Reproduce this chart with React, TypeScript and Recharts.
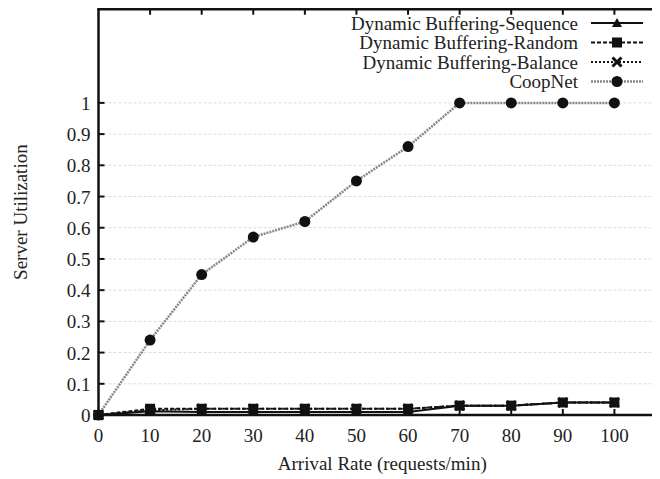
import React from 'react';
import { LineChart, Line, XAxis, YAxis, CartesianGrid, Legend } from 'recharts';

const arrivalRates = [0, 10, 20, 30, 40, 50, 60, 70, 80, 90, 100];
const sequenceValues = [0, 0.012, 0.01, 0.01, 0.01, 0.01, 0.01, 0.03, 0.03, 0.04, 0.04];
const randomValues = [0, 0.02, 0.02, 0.02, 0.02, 0.02, 0.02, 0.03, 0.03, 0.04, 0.04];
const balanceValues = [0, 0.015, 0.02, 0.02, 0.02, 0.02, 0.02, 0.03, 0.03, 0.04, 0.04];
const coopNetValues = [0, 0.24, 0.45, 0.57, 0.62, 0.75, 0.86, 1, 1, 1, 1];
const xTicks = [0, 10, 20, 30, 40, 50, 60, 70, 80, 90, 100];
const yTicks = [0, 0.1, 0.2, 0.3, 0.4, 0.5, 0.6, 0.7, 0.8, 0.9, 1];
const yTickLabels = ['0', '0.1', '0.2', '0.3', '0.4', '0.5', '0.6', '0.7', '0.8', '0.9', '1'];
const yMax = 1.3;
const seriesNames = [
  'Dynamic Buffering-Sequence',
  'Dynamic Buffering-Random',
  'Dynamic Buffering-Balance',
  'CoopNet',
];

const data = arrivalRates.map((x, i) => ({
  x,
  seq: sequenceValues[i],
  rnd: randomValues[i],
  bal: balanceValues[i],
  coop: coopNetValues[i],
}));

const FONT = '"Liberation Serif", "Times New Roman", serif';
const TEXT = '#222';
const PLOT_TOP = 1.25;
const PLOT_LEFT = 90.5;

const Triangle = ({ cx, cy }: any) => (
  <path d={`M${cx},${cy - 5} L${cx + 5},${cy + 4} L${cx - 5},${cy + 4} Z`} fill="#111" />
);
const Square = ({ cx, cy }: any) => (
  <rect x={cx - 5} y={cy - 5} width={10} height={10} fill="#111" />
);
const Cross = ({ cx, cy }: any) => (
  <path
    d={`M${cx - 4.5},${cy - 4.5} L${cx + 4.5},${cy + 4.5} M${cx + 4.5},${cy - 4.5} L${cx - 4.5},${cy + 4.5}`}
    stroke="#111"
    strokeWidth={3}
  />
);
const Circle = ({ cx, cy }: any) => <circle cx={cx} cy={cy} r={5.5} fill="#111" />;

const mk = (C: any) => (props: any) => {
  if (props.cx == null || props.cy == null) return <g key={props.index} />;
  return <C key={`d-${props.index}`} cx={props.cx} cy={props.cy} />;
};

const legendStyles = [
  { stroke: '#111', dash: undefined, width: 2, M: Triangle },
  { stroke: '#111', dash: '4 2', width: 2, M: Square },
  { stroke: '#111', dash: '2 2', width: 2, M: Cross },
  { stroke: '#888', dash: '2 1', width: 2.5, M: Circle },
];

const LegendContent = () => (
  <svg width={652} height={95} style={{ position: 'absolute', left: 0, top: 0, pointerEvents: 'none' }}>
    <line x1={PLOT_LEFT - 1.25} x2={652} y1={PLOT_TOP} y2={PLOT_TOP} stroke="#111" strokeWidth={2.5} />
    {seriesNames.map((name, i) => {
      const ly = 15 + i * 19.5;
      const s = legendStyles[i];
      const M = s.M;
      return (
        <g key={name}>
          <text x={570} y={ly + 6.5} textAnchor="end" fontFamily={FONT} fontSize={19} fill={TEXT}>
            {name}
          </text>
          <line x1={583} x2={635} y1={ly} y2={ly} stroke={s.stroke} strokeWidth={s.width} strokeDasharray={s.dash} />
          <M cx={609} cy={ly} />
        </g>
      );
    })}
  </svg>
);

const YTick = ({ x, y, payload }: any) => {
  const idx = yTicks.indexOf(payload.value);
  if (idx < 0) return <g />;
  return (
    <g>
      <line x1={x} x2={x + 6} y1={y} y2={y} stroke="#111" strokeWidth={2} />
      <text x={x - 8} y={y + 7} textAnchor="end" fontFamily={FONT} fontSize={19} fill={TEXT}>
        {yTickLabels[idx]}
      </text>
    </g>
  );
};

const XTick = ({ x, y, payload }: any) => (
  <g>
    {payload.value !== 0 && <line x1={x} x2={x} y1={y} y2={y - 6} stroke="#111" strokeWidth={2} />}
    {payload.value !== 0 && (
      <line x1={x} x2={x} y1={PLOT_TOP} y2={PLOT_TOP + 5.5} stroke="#111" strokeWidth={2} />
    )}
    <text x={x} y={y + 27} textAnchor="middle" fontFamily={FONT} fontSize={19} fill={TEXT}>
      {payload.value}
    </text>
  </g>
);

const YLabel = ({ viewBox }: any) => {
  const cx = viewBox.x + 19;
  const cy = viewBox.y + viewBox.height / 2;
  return (
    <text
      x={cx}
      y={cy}
      transform={`rotate(-90, ${cx}, ${cy})`}
      textAnchor="middle"
      fontFamily={FONT}
      fontSize={19}
      fill={TEXT}
    >
      Server Utilization
    </text>
  );
};

const XLabel = ({ viewBox }: any) => {
  const cx = viewBox.x + viewBox.width / 2;
  return (
    <text x={cx} y={viewBox.y + 55} textAnchor="middle" fontFamily={FONT} fontSize={19} fill={TEXT}>
      Arrival Rate (requests/min)
    </text>
  );
};

export default function App() {
  return (
    <div style={{ width: 652, height: 471, overflow: 'hidden', position: 'relative', background: '#fff' }}>
      <LineChart
        width={676}
        height={471}
        data={data}
        margin={{ top: PLOT_TOP, right: 18, bottom: 0, left: 0 }}
      >
        <CartesianGrid vertical={false} stroke="#dcdcdc" strokeDasharray="3 2" />
        <XAxis
          dataKey="x"
          type="number"
          domain={[0, 110]}
          ticks={xTicks}
          interval={0}
          height={64}
          tickLine={false}
          tickSize={0}
          tickMargin={0}
          axisLine={{ stroke: '#111', strokeWidth: 2.5 }}
          tick={<XTick />}
          label={<XLabel />}
        />
        <YAxis
          type="number"
          domain={[0, yMax]}
          ticks={yTicks}
          interval={0}
          width={PLOT_LEFT}
          tickLine={false}
          tickSize={0}
          tickMargin={0}
          axisLine={{ stroke: '#111', strokeWidth: 2.5 }}
          tick={<YTick />}
          label={<YLabel />}
        />
        <Legend
          layout="horizontal"
          verticalAlign="middle"
          align="center"
          wrapperStyle={{ position: 'absolute', top: 0, left: 0, width: 652, height: 95 }}
          content={<LegendContent />}
        />
        <Line
          name={seriesNames[0]}
          dataKey="seq"
          stroke="#111"
          strokeWidth={2}
          dot={mk(Triangle)}
          isAnimationActive={false}
        />
        <Line
          name={seriesNames[1]}
          dataKey="rnd"
          stroke="#111"
          strokeWidth={2}
          strokeDasharray="4 2"
          dot={mk(Square)}
          isAnimationActive={false}
        />
        <Line
          name={seriesNames[2]}
          dataKey="bal"
          stroke="#111"
          strokeWidth={2}
          strokeDasharray="2 2"
          dot={mk(Cross)}
          isAnimationActive={false}
        />
        <Line
          name={seriesNames[3]}
          dataKey="coop"
          stroke="#888"
          strokeWidth={2.5}
          strokeDasharray="2 1"
          dot={mk(Circle)}
          isAnimationActive={false}
        />
      </LineChart>
    </div>
  );
}
